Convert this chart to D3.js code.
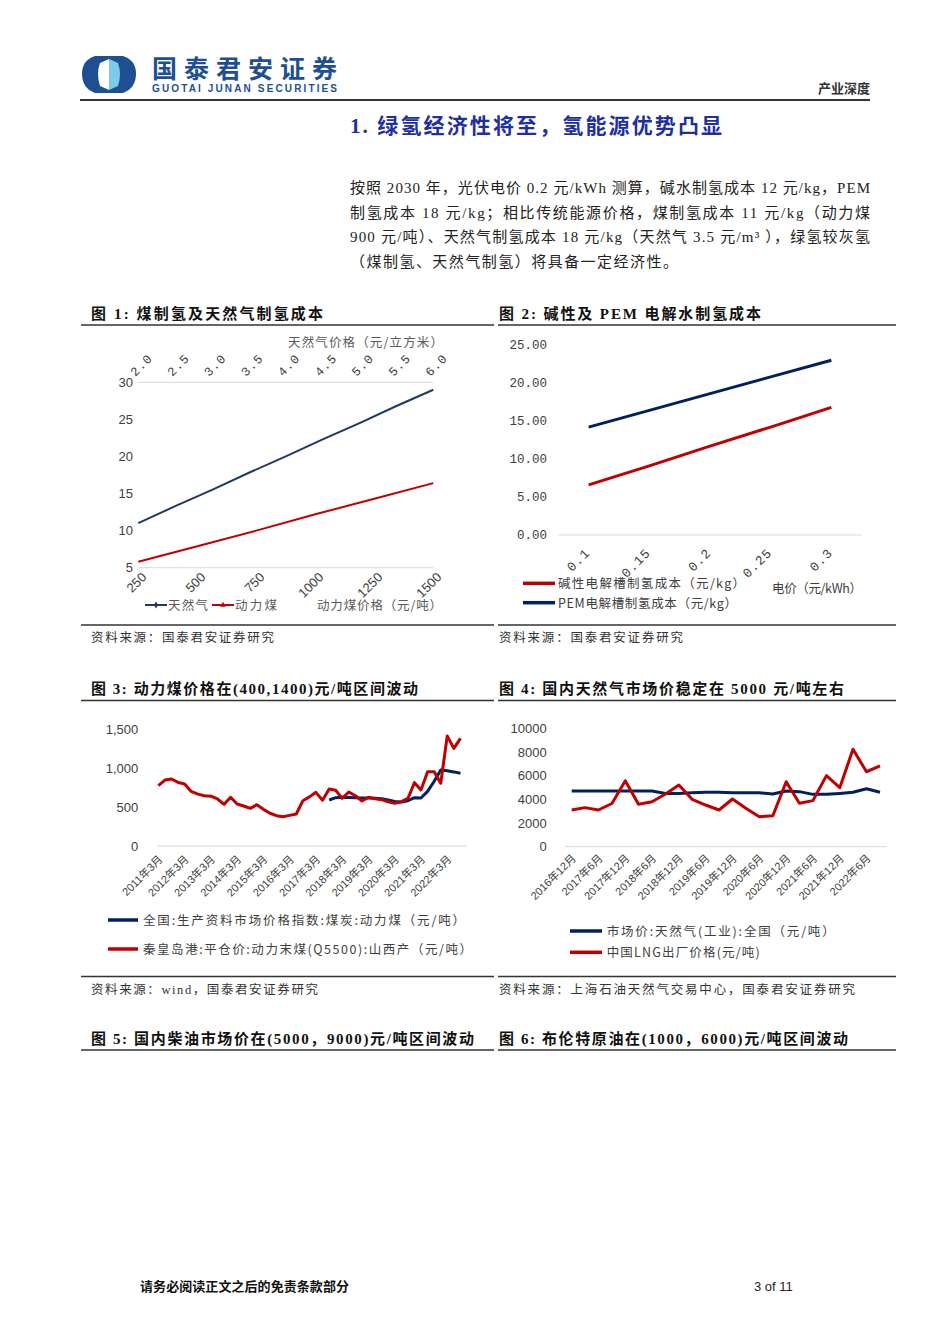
<!DOCTYPE html>
<html>
<head>
<meta charset="utf-8">
<script src="https://cdn.jsdelivr.net/npm/d3@7"></script>
<style>body{margin:0;background:#fff}</style>
</head>
<body>
<script>
// 图1 煤制氢 / 天然气制氢成本
const coalPrice = [250, 500, 750, 1000, 1250, 1500];
const coalCost = [5.8, 7.9, 10.0, 12.2, 14.3, 16.4];
const gasPrice = ['2.0', '2.5', '3.0', '3.5', '4.0', '4.5', '5.0', '5.5', '6.0'];
const gasCost = [11.0, 13.3, 15.5, 17.8, 20.0, 22.3, 24.5, 26.8, 29.0];
const costTicks = [5, 10, 15, 20, 25, 30];

// 图2 碱性 / PEM 电解水
const elecPrice = ['0.1', '0.15', '0.2', '0.25', '0.3'];
const alkCost = [6.6, 9.1, 11.7, 14.2, 16.8];
const pemCost = [14.2, 16.4, 18.6, 20.8, 23.0];
const elecTicks = [0, 5, 10, 15, 20, 25];

// 图3 动力煤 (季度)
const coalQ5500Start = '2011年3月';
const coalQ5500 = [773, 845, 859, 815, 795, 700, 665, 645, 638, 603,
	534, 624, 538, 513, 483, 530, 470, 420, 389, 376,
	393, 410, 581, 630, 688, 585, 731, 714, 611, 692,
	645, 577, 624, 607, 594, 568, 547, 568, 611, 812,
	718, 953, 953, 804, 1410, 1252, 1380];
const coalIndexStart = '2017年9月';
const coalIndex = [590, 620, 625, 622, 618, 615, 615, 612, 605, 590,
	570, 565, 580, 620, 615, 700, 830, 975, 965, 950, 932];
const coalTicks = [0, 500, 1000, 1500];
const coalLabels = ['2011年3月', '2012年3月', '2013年3月', '2014年3月', '2015年3月', '2016年3月',
	'2017年3月', '2018年3月', '2019年3月', '2020年3月', '2021年3月', '2022年3月'];

// 图4 天然气 (季度)
const gasStart = '2016年12月';
const gasMarket = [4700, 4700, 4700, 4700, 4700, 4700, 4700, 4500, 4500, 4550, 4600, 4600,
	4550, 4550, 4550, 4450, 4700, 4650, 4420, 4420, 4500, 4600, 4900, 4600];
const lngPrice = [3100, 3300, 3100, 3650, 5570, 3580, 3800, 4450, 5210, 4000, 3520, 3100,
	4030, 3240, 2530, 2620, 5490, 3670, 3890, 6000, 4980, 8230, 6330, 6820];
const gasTicks = [0, 2000, 4000, 6000, 8000, 10000];
const gasLabels = ['2016年12月', '2017年6月', '2017年12月', '2018年6月', '2018年12月', '2019年6月',
	'2019年12月', '2020年6月', '2020年12月', '2021年6月', '2021年12月', '2022年6月'];

const CJK = '"Noto Sans CJK SC", sans-serif';
const SERIF = '"Liberation Serif", "Noto Sans CJK SC", serif';
const ARIAL = '"Liberation Sans", "Noto Sans CJK SC", sans-serif';
const MONO = '"Liberation Mono", "Noto Sans CJK SC", monospace';
const RED = '#c00000';
const NAVY = '#002060';
const BLUE1 = '#1f3864';
const GRID = '#d9d9d9';
const TICK = '#404040';

const parseCn = d3.timeParse('%Y年%m月');

const svg = d3.select('body').append('svg')
	.attr('width', 950).attr('height', 1344)
	.style('font-family', CJK);

function label(parent, x, y, s, o = {}) {
	let t = parent.append('text').attr('x', x).attr('y', y).text(s)
		.style('font-size', (o.size || 13) + 'px')
		.style('fill', o.fill || '#333');
	if (o.family) t.style('font-family', o.family);
	if (o.weight) t.style('font-weight', o.weight);
	if (o.anchor) t.attr('text-anchor', o.anchor);
	if (o.len) t.attr('textLength', o.len).attr('lengthAdjust', o.adjust || 'spacing');
	return t;
}

function hline(x1, x2, y, color, w) {
	svg.append('line').attr('x1', x1).attr('x2', x2).attr('y1', y).attr('y2', y)
		.style('stroke', color).style('stroke-width', w);
}

// ---- header
let logo = svg.append('g');
logo.append('path').attr('d', 'M95,56 L123,56 Q136,60 136,74 Q136,88 123,93 L95,93 Q82,88 82,74 Q82,60 95,56 Z')
	.style('fill', '#1d4f91');
logo.append('path').attr('d', 'M109,59 L100,63 Q96,74 100,86 L109,90 Z').style('fill', '#fff');
logo.append('path').attr('d', 'M109,59 L118,63 Q122,74 118,86 L109,90 Z').style('fill', '#7dcbea');
label(svg, 152, 78, '国泰君安证券', { size: 25, weight: 'bold', fill: '#1d4f91', len: 185 });
label(svg, 152, 92, 'GUOTAI JUNAN SECURITIES', { size: 10, weight: 'bold', fill: '#1d4f91', family: ARIAL, len: 185 });
label(svg, 870, 93, '产业深度', { size: 13, weight: 'bold', fill: '#333', anchor: 'end' });
hline(80, 870, 100, '#333', 2);

// ---- section title & paragraph
label(svg, 350, 133, '1.  绿氢经济性将至，氢能源优势凸显', { size: 21, weight: 'bold', fill: '#1f2f9f', family: SERIF, len: 372 });
let para = [
	['按照 2030 年，光伏电价 0.2 元/kWh 测算，碱水制氢成本 12 元/kg，PEM', 520],
	['制氢成本 18 元/kg；相比传统能源价格，煤制氢成本 11 元/kg（动力煤', 520],
	['900 元/吨）、天然气制氢成本 18 元/kg（天然气 3.5 元/m³  ），绿氢较灰氢', 520],
	['（煤制氢、天然气制氢）将具备一定经济性。', 328]
];
para.forEach((p, i) => {
	label(svg, 350, 193 + i * 24.7, p[0], { size: 15, fill: '#222', family: SERIF, len: p[1] });
});

// ---- figure frames
let frames = [
	{ x: 91, y: 319, t: '图 1:  煤制氢及天然气制氢成本', len: 232 },
	{ x: 499, y: 319, t: '图 2:  碱性及 PEM 电解水制氢成本', len: 262 },
	{ x: 91, y: 694, t: '图 3:  动力煤价格在(400,1400)元/吨区间波动', len: 327 },
	{ x: 499, y: 694, t: '图 4:  国内天然气市场价稳定在 5000 元/吨左右', len: 345 },
	{ x: 91, y: 1044, t: '图 5:  国内柴油市场价在(5000，9000)元/吨区间波动', len: 383 },
	{ x: 499, y: 1044, t: '图 6:  布伦特原油在(1000，6000)元/吨区间波动', len: 349 }
];
frames.forEach(f => {
	label(svg, f.x, f.y, f.t, { size: 15, weight: 'bold', fill: '#111', family: SERIF, len: f.len });
});
[325, 700.5, 1050].forEach(y => { hline(81, 494, y, '#333', 1.5); hline(498, 896, y, '#333', 1.5); });
[625, 976.5].forEach(y => { hline(81, 494, y, '#333', 1.5); hline(498, 896, y, '#333', 1.5); });
label(svg, 91, 642, '资料来源：国泰君安证券研究', { size: 12.5, fill: '#333', len: 183 });
label(svg, 499, 642, '资料来源：国泰君安证券研究', { size: 12.5, fill: '#333', len: 184 });
label(svg, 91, 994, '资料来源：wind，国泰君安证券研究', { size: 12.5, fill: '#333', family: SERIF, len: 227 });
label(svg, 499, 994, '资料来源：上海石油天然气交易中心，国泰君安证券研究', { size: 12.5, fill: '#333', len: 356 });

// ---- footer
label(svg, 140, 1291, '请务必阅读正文之后的免责条款部分', { size: 13, weight: 'bold', fill: '#111', len: 209 });
label(svg, 754, 1291, '3 of 11', { size: 13, fill: '#222', family: ARIAL });

// =============== 图1
{
	let g = svg.append('g');
	let xb = d3.scalePoint().domain(coalPrice).range([138.3, 433.3]);
	let xt = d3.scalePoint().domain(gasPrice).range([138.3, 433.3]);
	let y = d3.scaleLinear().domain([5, 30]).range([567.7, 382.3]);

	[5, 30].forEach(v => {
		g.append('line').attr('x1', 138.3).attr('x2', 433.3).attr('y1', y(v)).attr('y2', y(v))
			.style('stroke', GRID).style('stroke-width', 1);
	});
	g.selectAll('.ytick').data(costTicks).join('text').attr('class', 'ytick')
		.attr('x', 133).attr('y', d => y(d)).attr('dy', '0.35em').attr('text-anchor', 'end')
		.style('font-family', ARIAL).style('font-size', '13px').style('fill', TICK)
		.text(d => d);
	g.selectAll('.xb').data(coalPrice).join('text').attr('class', 'xb')
		.attr('transform', d => 'translate(' + (xb(d) + 9) + ',578) rotate(-45)')
		.attr('text-anchor', 'end')
		.style('font-family', ARIAL).style('font-size', '13px').style('fill', TICK)
		.text(d => d);
	g.selectAll('.xt').data(gasPrice).join('text').attr('class', 'xt')
		.attr('transform', d => 'translate(' + (xt(d) - 3) + ',377) rotate(-45)')
		.style('font-family', MONO).style('font-size', '12.5px').style('letter-spacing', '1px').style('fill', TICK)
		.text(d => d);

	g.append('path').datum(gasCost)
		.attr('d', d3.line().x((d, i) => xt(gasPrice[i])).y(d => y(d)))
		.style('fill', 'none').style('stroke', BLUE1).style('stroke-width', 2);
	g.append('path').datum(coalCost)
		.attr('d', d3.line().x((d, i) => xb(coalPrice[i])).y(d => y(d)))
		.style('fill', 'none').style('stroke', RED).style('stroke-width', 2);

	label(g, 288, 347, '天然气价格（元/立方米）', { size: 12.5, fill: '#595959', len: 155 });
	label(g, 317, 610, '动力煤价格（元/吨）', { size: 12.5, fill: '#595959', len: 125 });
	// legend
	g.append('line').attr('x1', 145).attr('x2', 167).attr('y1', 605).attr('y2', 605).style('stroke', BLUE1).style('stroke-width', 2);
	g.append('path').attr('d', d3.symbol(d3.symbolDiamond, 14)()).attr('transform', 'translate(156,605)').style('fill', BLUE1);
	label(g, 168, 610, '天然气', { size: 12.5, fill: '#595959', len: 40 });
	g.append('line').attr('x1', 212).attr('x2', 234).attr('y1', 605).attr('y2', 605).style('stroke', RED).style('stroke-width', 2);
	g.append('path').attr('d', d3.symbol(d3.symbolTriangle, 14)()).attr('transform', 'translate(223,605)').style('fill', RED);
	label(g, 235, 610, '动力煤', { size: 12.5, fill: '#595959', len: 42 });
}

// =============== 图2
{
	let g = svg.append('g');
	let x = d3.scaleBand().domain(elecPrice).range([558.3, 861.7]);
	let cx = d => x(d) + x.bandwidth() / 2;
	let y = d3.scaleLinear().domain([0, 25]).range([535, 345]);

	g.append('line').attr('x1', 558.3).attr('x2', 861.7).attr('y1', y(0)).attr('y2', y(0))
		.style('stroke', GRID).style('stroke-width', 1);
	g.selectAll('.ytick').data(elecTicks).join('text').attr('class', 'ytick')
		.attr('x', 547).attr('y', d => y(d)).attr('dy', '0.35em').attr('text-anchor', 'end')
		.style('font-family', MONO).style('font-size', '12.5px').style('fill', TICK)
		.text(d3.format('.2f'));
	g.selectAll('.xtick').data(elecPrice).join('text').attr('class', 'xtick')
		.attr('transform', d => 'translate(' + (cx(d) + 2) + ',553.5) rotate(-45)')
		.attr('text-anchor', 'end')
		.style('font-family', MONO).style('font-size', '13px').style('letter-spacing', '1px').style('fill', TICK)
		.text(d => d);

	let line = d3.line().x((d, i) => cx(elecPrice[i])).y(d => y(d));
	g.append('path').datum(pemCost).attr('d', line)
		.style('fill', 'none').style('stroke', NAVY).style('stroke-width', 3);
	g.append('path').datum(alkCost).attr('d', line)
		.style('fill', 'none').style('stroke', RED).style('stroke-width', 3);

	g.append('line').attr('x1', 523).attr('x2', 555).attr('y1', 583.3).attr('y2', 583.3).style('stroke', RED).style('stroke-width', 3.5);
	label(g, 558, 588, '碱性电解槽制氢成本（元/kg）', { size: 12.5, fill: '#404040', len: 187 });
	g.append('line').attr('x1', 523).attr('x2', 555).attr('y1', 602.7).attr('y2', 602.7).style('stroke', NAVY).style('stroke-width', 3.5);
	label(g, 558, 607.5, 'PEM电解槽制氢成本（元/kg）', { size: 12.5, fill: '#404040', len: 179 });
	label(g, 772, 593, '电价（元/kWh）', { size: 12.5, fill: '#404040', len: 90 });
}

// =============== 图3
{
	let g = svg.append('g');
	let x = d3.scaleTime().domain([parseCn('2011年3月'), parseCn('2022年12月')]).range([158.3, 467]);
	let y = d3.scaleLinear().domain([0, 1500]).range([846, 729]);
	let redStart = parseCn(coalQ5500Start);
	let blueStart = parseCn(coalIndexStart);

	g.append('line').attr('x1', 157).attr('x2', 467).attr('y1', y(0)).attr('y2', y(0))
		.style('stroke', GRID).style('stroke-width', 1);
	g.selectAll('.ytick').data(coalTicks).join('text').attr('class', 'ytick')
		.attr('x', 138.3).attr('y', d => y(d)).attr('dy', '0.35em').attr('text-anchor', 'end')
		.style('font-family', ARIAL).style('font-size', '13px').style('fill', TICK)
		.text(d3.format(','));
	g.selectAll('.xtick').data(coalLabels).join('text').attr('class', 'xtick')
		.attr('transform', d => 'translate(' + (x(parseCn(d)) + 5) + ',860) rotate(-45)')
		.attr('text-anchor', 'end')
		.style('font-family', ARIAL).style('font-size', '11px').style('fill', TICK)
		.text(d => d);

	g.append('path').datum(coalIndex)
		.attr('d', d3.line().x((d, i) => x(d3.timeMonth.offset(blueStart, 3 * i))).y(d => y(d)))
		.style('fill', 'none').style('stroke', NAVY).style('stroke-width', 3).style('stroke-linejoin', 'round');
	g.append('path').datum(coalQ5500)
		.attr('d', d3.line().x((d, i) => x(d3.timeMonth.offset(redStart, 3 * i))).y(d => y(d)))
		.style('fill', 'none').style('stroke', RED).style('stroke-width', 3).style('stroke-linejoin', 'round');

	g.append('line').attr('x1', 108).attr('x2', 138).attr('y1', 920).attr('y2', 920).style('stroke', NAVY).style('stroke-width', 3.5);
	label(g, 143, 924.5, '全国:生产资料市场价格指数:煤炭:动力煤（元/吨）', { size: 12.5, fill: '#404040', len: 322 });
	g.append('line').attr('x1', 108).attr('x2', 138).attr('y1', 949).attr('y2', 949).style('stroke', RED).style('stroke-width', 3.5);
	label(g, 143, 953.5, '秦皇岛港:平仓价:动力末煤(Q5500):山西产（元/吨）', { size: 12.5, fill: '#404040', len: 329 });
}

// =============== 图4
{
	let g = svg.append('g');
	let start = parseCn(gasStart);
	let x = d3.scaleTime().domain([start, d3.timeMonth.offset(start, 3 * (lngPrice.length - 1))]).range([571.7, 880]);
	let y = d3.scaleLinear().domain([0, 10000]).range([846.7, 728.3]);

	g.append('line').attr('x1', 565).attr('x2', 887).attr('y1', y(0)).attr('y2', y(0))
		.style('stroke', GRID).style('stroke-width', 1);
	g.selectAll('.ytick').data(gasTicks).join('text').attr('class', 'ytick')
		.attr('x', 546.7).attr('y', d => y(d)).attr('dy', '0.35em').attr('text-anchor', 'end')
		.style('font-family', ARIAL).style('font-size', '13px').style('fill', TICK)
		.text(d => d);
	g.selectAll('.xtick').data(gasLabels).join('text').attr('class', 'xtick')
		.attr('transform', d => 'translate(' + (x(parseCn(d)) + 5) + ',859) rotate(-45)')
		.attr('text-anchor', 'end')
		.style('font-family', ARIAL).style('font-size', '11px').style('fill', TICK)
		.text(d => d);

	let line = d3.line().x((d, i) => x(d3.timeMonth.offset(start, 3 * i))).y(d => y(d));
	g.append('path').datum(gasMarket).attr('d', line)
		.style('fill', 'none').style('stroke', NAVY).style('stroke-width', 3).style('stroke-linejoin', 'round');
	g.append('path').datum(lngPrice).attr('d', line)
		.style('fill', 'none').style('stroke', RED).style('stroke-width', 3).style('stroke-linejoin', 'round');

	g.append('line').attr('x1', 570).attr('x2', 602).attr('y1', 931).attr('y2', 931).style('stroke', NAVY).style('stroke-width', 3.5);
	label(g, 606.7, 935.5, '市场价:天然气(工业):全国（元/吨）', { size: 12.5, fill: '#404040', len: 228 });
	g.append('line').attr('x1', 570).attr('x2', 602).attr('y1', 952.3).attr('y2', 952.3).style('stroke', RED).style('stroke-width', 3.5);
	label(g, 606.7, 957, '中国LNG出厂价格(元/吨)', { size: 12.5, fill: '#404040', len: 153 });
}
</script>
</body>
</html>
